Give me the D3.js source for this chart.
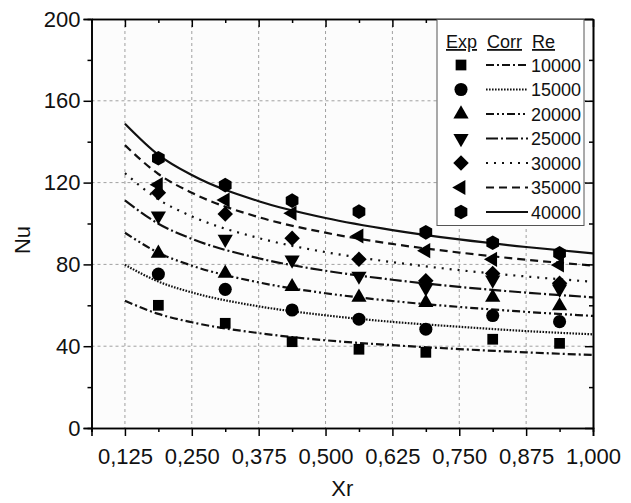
<!DOCTYPE html>
<html>
<head>
<meta charset="utf-8">
<script src="https://cdn.jsdelivr.net/npm/d3@7"></script>
<style>
  html, body { margin: 0; padding: 0; background: #fff; }
  svg { display: block; font-family: "Liberation Sans", Arial, sans-serif; }
</style>
</head>
<body>
<div id="root"></div>
<script>
// experimental points (Xr positions)
const xExp = [0.1875, 0.3125, 0.4375, 0.5625, 0.6875, 0.8125, 0.9375];
// correlation curves sampled along Xr
const xCorr = [0.125, 0.1875, 0.25, 0.375, 0.5, 0.625, 0.75, 0.875, 1.0];

const reLabels = ['10000', '15000', '20000', '25000', '30000', '35000', '40000'];

const exp10000 = [60.0, 51.2, 42.2, 38.5, 37.0, 43.4, 41.4];
const exp15000 = [75.3, 67.8, 57.7, 53.2, 48.3, 55.0, 52.0];
const exp20000 = [85.4, 75.6, 69.1, 63.9, 61.3, 63.9, 59.7];
const exp25000 = [103.7, 92.3, 82.2, 74.3, 68.5, 72.4, 68.0];
const exp30000 = [115.0, 104.6, 92.8, 82.5, 72.0, 75.5, 70.8];
const exp35000 = [119.0, 111.5, 105.0, 93.9, 86.7, 82.5, 79.7];
const exp40000 = [131.9, 118.8, 111.2, 105.8, 95.7, 90.6, 85.4];

const corr10000 = [62.2, 55.8, 51.7, 46.4, 42.9, 40.5, 38.6, 37.0, 35.7];
const corr15000 = [79.8, 71.6, 66.3, 59.5, 55.1, 51.9, 49.5, 47.4, 45.8];
const corr20000 = [95.5, 85.7, 79.4, 71.2, 65.9, 62.1, 59.2, 56.8, 54.8];
const corr25000 = [111.3, 99.9, 92.5, 83.0, 76.9, 72.5, 69.0, 66.2, 63.9];
const corr30000 = [124.6, 111.8, 103.5, 92.9, 86.0, 81.1, 77.2, 74.1, 71.5];
const corr35000 = [138.3, 124.2, 115.0, 103.1, 95.5, 90.0, 85.8, 82.3, 79.4];
const corr40000 = [148.8, 133.6, 123.7, 110.9, 102.7, 96.8, 92.2, 88.5, 85.4];

const xTicks = [0.125, 0.25, 0.375, 0.5, 0.625, 0.75, 0.875, 1.0];
const xMinorTicks = [0.0625, 0.1875, 0.3125, 0.4375, 0.5625, 0.6875, 0.8125, 0.9375];
const yTicks = [0, 40, 80, 120, 160, 200];
const yMinorTicks = [20, 60, 100, 140, 180];

const w = 631, h = 503;
const pLeft = 91.5, pRight = 593, pTop = 19, pBottom = 428;

const svg = d3.select('#root').append('svg')
  .attr('width', w)
  .attr('height', h);

const x = d3.scaleLinear().domain([0.0625, 1.0]).range([pLeft, pRight]);
const y = d3.scaleLinear().domain([0, 200]).range([pBottom, pTop]);

const fmt = d3.formatLocale({decimal: ',', thousands: '.', grouping: [3], currency: ['', '']}).format('.3f');

// plot background
svg.append('rect')
  .attr('x', pLeft).attr('y', pTop)
  .attr('width', pRight - pLeft).attr('height', pBottom - pTop)
  .attr('fill', '#fcfcfc');

// grid
svg.append('g').selectAll('line')
  .data(xTicks.slice(0, -1))
  .enter().append('line')
  .attr('x1', d => x(d)).attr('x2', d => x(d))
  .attr('y1', pTop).attr('y2', pBottom)
  .attr('stroke', '#a0a0a0').attr('stroke-width', 1)
  .attr('stroke-dasharray', '3,3');

svg.append('g').selectAll('line')
  .data(yTicks.slice(1, -1))
  .enter().append('line')
  .attr('x1', pLeft).attr('x2', pRight)
  .attr('y1', d => y(d)).attr('y2', d => y(d))
  .attr('stroke', '#a0a0a0').attr('stroke-width', 1)
  .attr('stroke-dasharray', '3,3');

// custom marker shapes
const hexagon = {
  draw(ctx, size) {
    const r = Math.sqrt(size * 2 / (3 * Math.sqrt(3)));
    for (let i = 0; i < 6; i++) {
      const a = Math.PI / 3 * i - Math.PI / 2;
      if (i === 0) ctx.moveTo(r * Math.cos(a), r * Math.sin(a));
      else ctx.lineTo(r * Math.cos(a), r * Math.sin(a));
    }
    ctx.closePath();
  }
};
const diamond = {
  draw(ctx, size) {
    const r = Math.sqrt(size / 2);
    ctx.moveTo(0, -r); ctx.lineTo(r, 0); ctx.lineTo(0, r); ctx.lineTo(-r, 0);
    ctx.closePath();
  }
};

const series = [
  {re: reLabels[0], exp: exp10000, corr: corr10000, type: d3.symbolSquare, size: 115, rot: 0, dash: '8,3,2,3'},
  {re: reLabels[1], exp: exp15000, corr: corr15000, type: d3.symbolCircle, size: 135, rot: 0, dash: '1.6,1.4'},
  {re: reLabels[2], exp: exp20000, corr: corr20000, type: d3.symbolTriangle, size: 100, rot: 0, dash: '8,3,2,3,2,3'},
  {re: reLabels[3], exp: exp25000, corr: corr25000, type: d3.symbolTriangle, size: 100, rot: 180, dash: '12,3,2,3'},
  {re: reLabels[4], exp: exp30000, corr: corr30000, type: diamond, size: 120, rot: 0, dash: '2,6'},
  {re: reLabels[5], exp: exp35000, corr: corr35000, type: d3.symbolTriangle, size: 100, rot: -90, dash: '8,5'},
  {re: reLabels[6], exp: exp40000, corr: corr40000, type: hexagon, size: 140, rot: 0, dash: null}
];

svg.append('clipPath').attr('id', 'clip')
  .append('rect')
  .attr('x', pLeft).attr('y', pTop)
  .attr('width', pRight - pLeft).attr('height', pBottom - pTop);

const line = d3.line()
  .x((d, i) => x(xCorr[i]))
  .y(d => y(d))
  .curve(d3.curveMonotoneX);

svg.append('g').attr('clip-path', 'url(#clip)')
  .selectAll('path')
  .data(series)
  .enter().append('path')
  .attr('d', d => line(d.corr))
  .attr('fill', 'none')
  .attr('stroke', '#111')
  .attr('stroke-width', 2.2)
  .attr('stroke-dasharray', d => d.dash);

series.forEach(s => {
  svg.append('g').selectAll('path')
    .data(s.exp)
    .enter().append('path')
    .attr('d', d3.symbol().type(s.type).size(s.size))
    .attr('transform', (d, i) => 'translate(' + x(xExp[i]) + ',' + y(d) + ') rotate(' + s.rot + ')')
    .attr('fill', '#000');
});

// axes
const axisStyle = g => {
  g.select('.domain').attr('stroke', '#000').attr('stroke-width', 1.6);
  g.selectAll('.tick line').attr('stroke', '#000').attr('stroke-width', 1.5);
  g.selectAll('text').attr('font-size', '22px').attr('fill', '#111')
    .attr('font-family', '"Liberation Sans", Arial, sans-serif');
};

svg.append('g')
  .attr('transform', 'translate(0,' + pBottom + ')')
  .call(d3.axisBottom(x).tickValues(xMinorTicks).tickSize(4).tickFormat(''))
  .call(axisStyle);
svg.append('g')
  .attr('transform', 'translate(0,' + pBottom + ')')
  .call(d3.axisBottom(x).tickValues(xTicks).tickSize(8).tickPadding(12).tickFormat(fmt))
  .call(axisStyle);

svg.append('g')
  .attr('transform', 'translate(' + pLeft + ',0)')
  .call(d3.axisLeft(y).tickValues(yMinorTicks).tickSize(4).tickFormat(''))
  .call(axisStyle);
svg.append('g')
  .attr('transform', 'translate(' + pLeft + ',0)')
  .call(d3.axisLeft(y).tickValues(yTicks).tickSize(8).tickPadding(3).tickFormat(d3.format('d')))
  .call(axisStyle);

// top and right frame with inward ticks
svg.append('g')
  .attr('transform', 'translate(0,' + pTop + ')')
  .call(d3.axisTop(x).tickValues(xMinorTicks).tickSizeInner(-4).tickSizeOuter(0).tickFormat(''))
  .call(axisStyle);
svg.append('g')
  .attr('transform', 'translate(0,' + pTop + ')')
  .call(d3.axisTop(x).tickValues(xTicks).tickSizeInner(-8).tickSizeOuter(0).tickFormat(''))
  .call(axisStyle);
svg.append('g')
  .attr('transform', 'translate(' + pRight + ',0)')
  .call(d3.axisRight(y).tickValues(yMinorTicks).tickSizeInner(-4).tickSizeOuter(0).tickFormat(''))
  .call(axisStyle);
svg.append('g')
  .attr('transform', 'translate(' + pRight + ',0)')
  .call(d3.axisRight(y).tickValues(yTicks).tickSizeInner(-8).tickSizeOuter(0).tickFormat(''))
  .call(axisStyle);

// axis titles
svg.append('text')
  .attr('x', (pLeft + pRight) / 2)
  .attr('y', 496)
  .attr('text-anchor', 'middle')
  .attr('font-size', '22px')
  .attr('fill', '#111')
  .text('Xr');

svg.append('text')
  .attr('transform', 'translate(30,240) rotate(-90)')
  .attr('text-anchor', 'middle')
  .attr('font-size', '22px')
  .attr('fill', '#111')
  .text('Nu');

// legend
const lg = svg.append('g');
lg.append('rect')
  .attr('x', 437).attr('y', pTop + 0.5)
  .attr('width', 147).attr('height', 206)
  .attr('fill', '#fff')
  .attr('stroke', '#555').attr('stroke-width', 1);

const headers = [['Exp', 446], ['Corr', 487], ['Re', 532]];
lg.selectAll('text.hd')
  .data(headers)
  .enter().append('text')
  .attr('class', 'hd')
  .attr('x', d => d[1])
  .attr('y', 48)
  .attr('font-size', '18px')
  .attr('fill', '#111')
  .attr('text-decoration', 'underline')
  .text(d => d[0]);

const rowY = i => 65 + i * 24.5;

lg.selectAll('path.sym')
  .data(series)
  .enter().append('path')
  .attr('class', 'sym')
  .attr('d', d => d3.symbol().type(d.type).size(d.size)())
  .attr('transform', (d, i) => 'translate(461,' + rowY(i) + ') rotate(' + d.rot + ')')
  .attr('fill', '#000');

lg.selectAll('line.ln')
  .data(series)
  .enter().append('line')
  .attr('class', 'ln')
  .attr('x1', 486).attr('x2', 528)
  .attr('y1', (d, i) => rowY(i)).attr('y2', (d, i) => rowY(i))
  .attr('stroke', '#111')
  .attr('stroke-width', 2)
  .attr('stroke-dasharray', d => d.dash);

lg.selectAll('text.re')
  .data(series)
  .enter().append('text')
  .attr('class', 're')
  .attr('x', 531)
  .attr('y', (d, i) => rowY(i) + 6.5)
  .attr('font-size', '18px')
  .attr('fill', '#111')
  .text(d => d.re);
</script>
</body>
</html>
